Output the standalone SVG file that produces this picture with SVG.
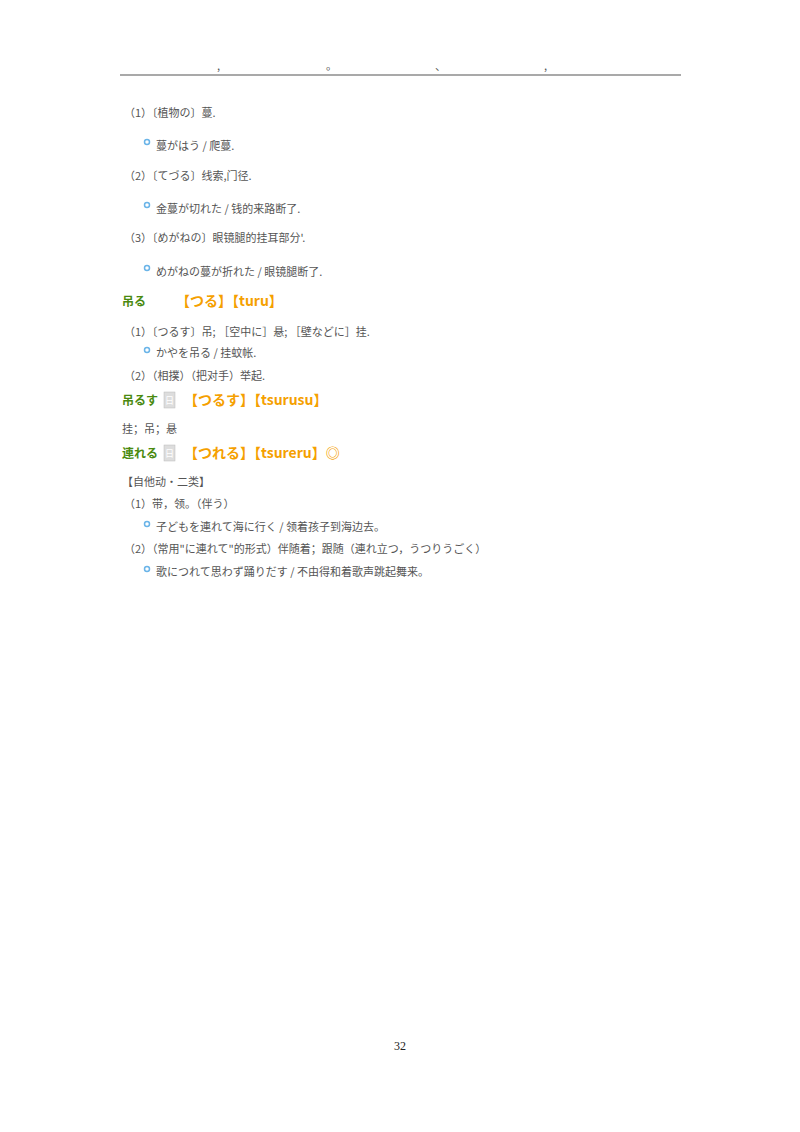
<svg xmlns="http://www.w3.org/2000/svg" width="800" height="1132" viewBox="0 0 800 1132">
<style>
text{font-family:"Noto Sans CJK SC","Noto Sans CJK JP",sans-serif;}
.t{font-size:11px;fill:#555}
.h{font-size:12px;font-weight:bold;fill:#4a8a10}
.o{font-size:14px;font-weight:bold;fill:#f5a000}
.b{fill:none;stroke:#6ab4e8;stroke-width:1.5}
.ic{fill:#ddd;stroke:#bbb;stroke-width:0.5}
</style>
<rect width="800" height="1132" fill="#fff"/>
<g class="t"><text x="217" y="70">,</text><text x="326" y="70">。</text><text x="435" y="70">、</text><text x="544" y="70">,</text></g>
<line x1="120" y1="75" x2="681" y2="75" stroke="#555" stroke-width="1.2"/>
<g class="t">
<text x="124" y="117">（1）〔植物の〕蔓.</text>
<text x="156" y="150">蔓がはう / 爬蔓.</text>
<text x="124" y="180">（2）〔てづる〕线索,门径.</text>
<text x="156" y="213">金蔓が切れた / 钱的来路断了.</text>
<text x="124" y="242">（3）〔めがねの〕眼镜腿的挂耳部分'.</text>
<text x="156" y="276">めがねの蔓が折れた / 眼镜腿断了.</text>
<text x="124" y="336">（1）〔つるす〕吊; ［空中に］悬; ［壁などに］挂.</text>
<text x="156" y="357">かやを吊る / 挂蚊帐.</text>
<text x="124" y="380">（2）（相撲）（把对手）举起.</text>
<text x="122" y="433">挂；吊；悬</text>
<text x="122" y="486">【自他动·二类】</text>
<text x="124" y="508">（1）带，领。（伴う）</text>
<text x="156" y="531">子どもを連れて海に行く / 领着孩子到海边去。</text>
<text x="124" y="553">（2）（常用"に連れて"的形式）伴随着；跟随（連れ立つ，うつりうごく）</text>
<text x="156" y="576">歌につれて思わず踊りだす / 不由得和着歌声跳起舞来。</text>
</g>
<g>
<circle class="b" cx="147" cy="142" r="2.5"/><circle class="b" cx="147" cy="205" r="2.5"/><circle class="b" cx="147" cy="268" r="2.5"/>
<circle class="b" cx="147" cy="350" r="2.5"/><circle class="b" cx="147" cy="524" r="2.5"/><circle class="b" cx="147" cy="569" r="2.5"/>
</g>
<g id="entry1"><text class="h" x="122" y="306">吊る</text><text class="o" x="176" y="306">【つる】【turu】</text></g>
<g id="entry2"><text class="h" x="122" y="405">吊るす</text><rect class="ic" x="164" y="392" width="11" height="16"/><text x="169.5" y="404" font-size="9" fill="#fff" text-anchor="middle">日</text><text class="o" x="184" y="405">【つるす】【tsurusu】</text></g>
<g id="entry3"><text class="h" x="122" y="458">連れる</text><rect class="ic" x="164" y="445" width="11" height="16"/><text x="169.5" y="457" font-size="9" fill="#fff" text-anchor="middle">日</text><text class="o" x="184" y="458">【つれる】【tsureru】◎</text></g>
<text x="400" y="1050" font-family="Liberation Serif" font-size="12" fill="#222" text-anchor="middle" style="font-family:'Liberation Serif',serif">32</text>
</svg>
